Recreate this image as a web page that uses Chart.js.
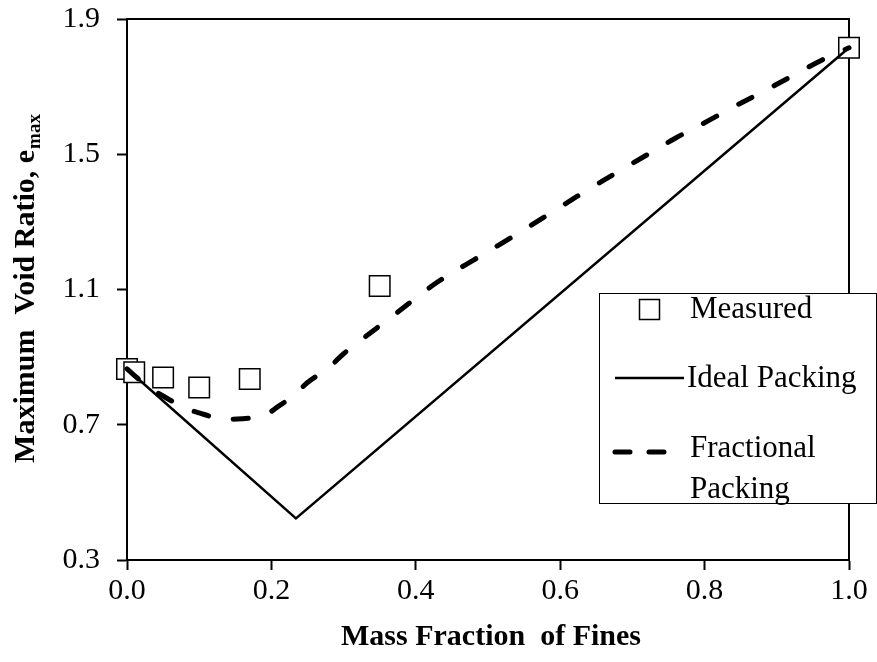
<!DOCTYPE html>
<html>
<head>
  <script src="https://cdn.jsdelivr.net/npm/chart.js@4.4.1/dist/chart.umd.min.js"></script>
  <style>
    html, body { margin: 0; padding: 0; background: #fff; }
    #wrap { width: 877px; height: 662px; }
  </style>
</head>
<body>
  <div id="wrap"><canvas id="myChart" width="877" height="662"></canvas></div>

  <script>
    // measured points
    const measuredX = [0.0, 0.01, 0.05, 0.10, 0.17, 0.35, 1.0];
    const measuredY = [0.865, 0.855, 0.84, 0.81, 0.835, 1.11, 1.815];

    // ideal packing (two straight segments)
    const idealX = [0.0, 0.234, 1.0];
    const idealY = [0.865, 0.423, 1.815];

    // fractional packing curve
    const fracX = [0.0, 0.025, 0.05, 0.08, 0.10, 0.13, 0.16, 0.19, 0.21, 0.23, 0.25, 0.28, 0.30, 0.33,
                   0.37, 0.43, 0.48, 0.52, 0.56, 0.60, 0.64, 0.68, 0.72, 0.76, 0.80, 0.84, 0.88, 0.92, 0.96, 1.0];
    const fracY = [0.865, 0.82, 0.785, 0.75, 0.735, 0.718, 0.718, 0.728, 0.755, 0.785, 0.825, 0.87, 0.91, 0.96,
                   1.025, 1.122, 1.187, 1.238, 1.29, 1.344, 1.397, 1.448, 1.498, 1.548, 1.593, 1.64, 1.684, 1.73, 1.776, 1.815];

    const xTicks = [0.0, 0.2, 0.4, 0.6, 0.8, 1.0];
    const yTicks = [0.3, 0.7, 1.1, 1.5, 1.9];

    const serif = "'Liberation Serif', 'Times New Roman', serif";

    const toPts = (xs, ys) => xs.map((x, i) => ({ x: x, y: ys[i] }));

    // frame, axis titles and legend box
    const decorations = {
      id: 'decorations',
      beforeDatasetsDraw(chart) {
        const ctx = chart.ctx;
        const a = chart.chartArea;
        ctx.save();
        ctx.strokeStyle = '#000';
        ctx.lineWidth = 2;
        ctx.strokeRect(a.left, a.top, a.right - a.left, a.bottom - a.top);
        ctx.restore();
      },
      afterDraw(chart) {
        const ctx = chart.ctx;
        const a = chart.chartArea;
        ctx.save();

        // x title
        ctx.fillStyle = '#000';
        ctx.font = 'bold 30px ' + serif;
        ctx.textAlign = 'center';
        ctx.textBaseline = 'middle';
        ctx.fillText('Mass Fraction  of Fines', (a.left + a.right) / 2 + 3, 637);

        // y title with subscript
        const main = 'Maximum  Void Ratio, e';
        const sub = 'max';
        ctx.font = 'bold 30px ' + serif;
        const w1 = ctx.measureText(main).width;
        ctx.font = 'bold 19px ' + serif;
        const w2 = ctx.measureText(sub).width;
        ctx.translate(34, 289);
        ctx.rotate(-Math.PI / 2);
        ctx.textAlign = 'left';
        ctx.textBaseline = 'alphabetic';
        let sx = -(w1 + w2) / 2;
        ctx.font = 'bold 30px ' + serif;
        ctx.fillText(main, sx, 0);
        ctx.font = 'bold 19px ' + serif;
        ctx.fillText(sub, sx + w1 + 1, 6);
        ctx.setTransform(1, 0, 0, 1, 0, 0);

        // legend
        ctx.fillStyle = '#fff';
        ctx.fillRect(599.5, 293.5, 277, 210);
        ctx.strokeStyle = '#000';
        ctx.lineWidth = 1;
        ctx.strokeRect(599.5, 293.5, 277, 210);

        ctx.lineWidth = 1.5;
        ctx.strokeRect(639.5, 299.5, 20, 20);

        ctx.lineWidth = 2.5;
        ctx.beginPath();
        ctx.moveTo(615, 378);
        ctx.lineTo(684, 378);
        ctx.stroke();

        ctx.lineWidth = 5;
        ctx.lineCap = 'round';
        ctx.beginPath();
        ctx.moveTo(615, 452); ctx.lineTo(630, 452);
        ctx.moveTo(649, 452); ctx.lineTo(664, 452);
        ctx.stroke();

        ctx.fillStyle = '#000';
        ctx.font = '31px ' + serif;
        ctx.textAlign = 'left';
        ctx.textBaseline = 'middle';
        ctx.fillText('Measured', 690, 310);
        ctx.fillText('Ideal Packing', 687, 379);
        ctx.fillText('Fractional', 690, 449);
        ctx.fillText('Packing', 690, 490);

        ctx.restore();
      }
    };

    new Chart('myChart', {
      type: 'scatter',
      data: {
        datasets: [
          {
            label: 'Ideal Packing',
            data: toPts(idealX, idealY),
            showLine: true,
            borderColor: '#000',
            borderWidth: 2.5,
            pointRadius: 0,
            tension: 0,
            clip: false,
            order: 1
          },
          {
            label: 'Fractional Packing',
            data: toPts(fracX, fracY),
            showLine: true,
            borderColor: '#000',
            borderWidth: 5,
            borderDash: [15, 25],
            borderCapStyle: 'round',
            tension: 0.35,
            pointRadius: 0,
            clip: false,
            order: 2
          },
          {
            label: 'Measured',
            data: toPts(measuredX, measuredY),
            showLine: false,
            pointStyle: 'rect',
            pointRadius: 14.5,
            pointHoverRadius: 14.5,
            pointBorderWidth: 1.5,
            pointBorderColor: '#000',
            pointBackgroundColor: '#fff',
            clip: false,
            order: 3
          }
        ]
      },
      options: {
        responsive: false,
        animation: false,
        events: [],
        layout: { padding: { top: 19, right: 28, left: 0, bottom: 0 } },
        plugins: {
          legend: { display: false },
          tooltip: { enabled: false }
        },
        scales: {
          x: {
            type: 'linear',
            min: 0,
            max: 1,
            afterFit: s => { s.height = 102; s.paddingLeft = 0; s.paddingRight = 0; },
            afterBuildTicks: s => { s.ticks = xTicks.map(v => ({ value: v })); },
            grid: { drawOnChartArea: false, drawTicks: true, tickLength: 10, tickColor: '#000', tickWidth: 2 },
            border: { display: true, color: '#000', width: 2 },
            ticks: {
              color: '#000',
              font: { family: serif, size: 30 },
              padding: 3,
              maxRotation: 0,
              callback: v => v.toFixed(1)
            }
          },
          y: {
            type: 'linear',
            min: 0.3,
            max: 1.9,
            afterFit: s => { s.width = 127; s.paddingTop = 0; s.paddingBottom = 0; },
            afterBuildTicks: s => { s.ticks = yTicks.map(v => ({ value: v })); },
            grid: { drawOnChartArea: false, drawTicks: true, tickLength: 10, tickColor: '#000', tickWidth: 2 },
            border: { display: true, color: '#000', width: 2 },
            ticks: {
              color: '#000',
              font: { family: serif, size: 30 },
              padding: 17,
              callback: v => v.toFixed(1)
            }
          }
        }
      },
      plugins: [decorations]
    });
  </script>
</body>
</html>
